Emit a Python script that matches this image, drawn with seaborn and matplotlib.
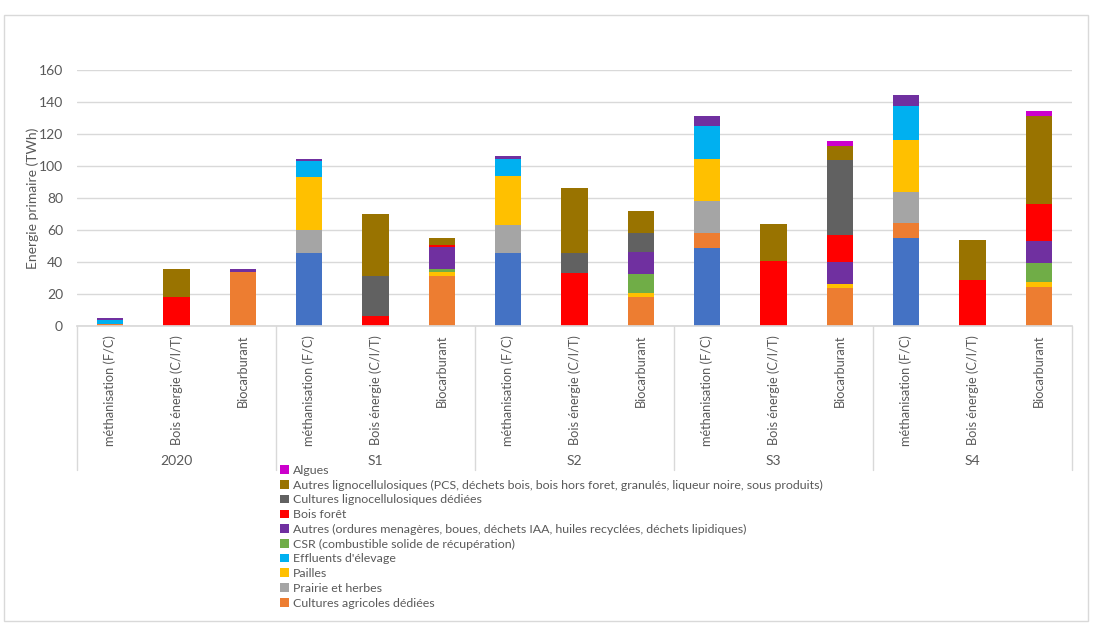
import matplotlib
matplotlib.use("Agg")
import matplotlib.pyplot as plt
from matplotlib.patches import Rectangle, Patch
from matplotlib.lines import Line2D
import seaborn as sns
import pandas as pd
import numpy as np

# ---- data ----
groups = ["2020", "S1", "S2", "S3", "S4"]
uses = ["méthanisation (F/C)", "Bois énergie (C/I/T)", "Biocarburant"]

series_names = [
    "Cultures intermédiaires",
    "Cultures agricoles dédiées",
    "Prairie et herbes",
    "Pailles",
    "Effluents d'élevage",
    "CSR (combustible solide de récupération)",
    "Autres (ordures menagères, boues, déchets IAA, huiles recyclées, déchets lipidiques)",
    "Bois forêt",
    "Cultures lignocellulosiques dédiées",
    "Autres lignocellulosiques (PCS, déchets bois, bois hors foret, granulés, liqueur noire, sous produits)",
    "Algues",
]
cultures_interm = [0, 0, 0, 45.6, 0, 0, 45.6, 0, 0, 49.0, 0, 0, 54.8, 0, 0]
cultures_agri = [1.5, 0, 34.0, 0, 0, 31.0, 0, 0, 17.9, 9.0, 0, 23.75, 9.8, 0, 24.6]
prairie = [0, 0, 0, 14.4, 0, 0, 17.7, 0, 0, 20.2, 0, 0, 19.0, 0, 0]
pailles = [0, 0, 0, 33.3, 0, 2.9, 30.2, 0, 2.9, 26.25, 0, 2.5, 32.9, 0, 3.1]
effluents = [2.5, 0, 0, 9.6, 0, 0, 10.6, 0, 0, 20.4, 0, 0, 20.8, 0, 0]
csr = [0, 0, 0, 0, 0, 2.0, 0, 0, 11.5, 0, 0, 0, 0, 0, 11.5]
autres = [0.8, 0, 1.9, 1.7, 0, 13.75, 2.1, 0, 13.75, 6.7, 0, 13.75, 7.1, 0, 13.75]
bois_foret = [0, 18.0, 0, 0, 6.25, 1.25, 0, 33.3, 0, 0, 40.6, 16.7, 0, 28.5, 23.3]
cultures_ligno = [0, 0, 0, 0, 25.2, 0, 0, 12.5, 12.1, 0, 0, 47.3, 0, 0, 0]
autres_ligno = [0, 17.7, 0, 0, 38.5, 4.0, 0, 40.6, 13.75, 0, 22.9, 8.75, 0, 25.2, 54.8]
algues = [0, 0, 0, 0, 0, 0, 0, 0, 0, 0, 0, 3.1, 0, 0, 3.1]

series_values = [cultures_interm, cultures_agri, prairie, pailles, effluents, csr,
                 autres, bois_foret, cultures_ligno, autres_ligno, algues]
colors = ["#4472C4", "#ED7D31", "#A5A5A5", "#FFC000", "#00B0F0", "#70AD47",
          "#7030A0", "#FF0000", "#616161", "#997300", "#CC00CC"]

# ---- figure ----
sns.set_theme(style="white")
plt.rcParams["font.family"] = ["Lato", "DejaVu Sans"]
TXT = "#595959"

W, H = 1100, 631
fig = plt.figure(figsize=(W / 100, H / 100), dpi=100)
ax = fig.add_axes([77 / W, 1 - 326 / H, (1072 - 77) / W, (326 - 70) / H])

bar_ids = [f"{g}|{u}" for g in groups for u in uses]
records = []
for name, vals in zip(series_names, series_values):
    for bid, v in zip(bar_ids, vals):
        records.append({"bar": bid, "serie": name, "value": v})
df = pd.DataFrame(records)
df["cum"] = df.groupby("bar")["value"].cumsum()

# draw cumulative layers from top to bottom so each covers the one below
for name, col in reversed(list(zip(series_names, colors))):
    sub = df[df["serie"] == name]
    sns.barplot(data=sub, x="bar", y="cum", order=bar_ids, color=col,
                width=0.4, ax=ax, saturation=1, errorbar=None,
                linewidth=0, edgecolor="none")

ax.set_ylim(0, 160)
ax.set_xlim(-0.5, len(bar_ids) - 0.5)
ax.set_yticks(np.arange(0, 161, 20))
ax.yaxis.grid(True, color="#D9D9D9", linewidth=1)
ax.set_axisbelow(True)
for s in ["top", "right", "left"]:
    ax.spines[s].set_visible(False)
ax.spines["bottom"].set_color("#D9D9D9")
ax.tick_params(axis="y", length=0, pad=10, labelsize=10, labelcolor=TXT)
ax.set_xticks(range(len(bar_ids)))
ax.set_xticklabels([u for g in groups for u in uses], rotation=90, va="top",
                   ha="center", fontsize=9.2, color=TXT)
ax.tick_params(axis="x", length=0, pad=6.5)
ax.set_xlabel("")
ax.set_ylabel("Energie primaire (TWh)", fontsize=10, color=TXT, labelpad=0)

# group labels and separators
n = len(uses)
for gi, g in enumerate(groups):
    xc = gi * n + (n - 1) / 2
    ax.text(xc, -(461 - 326) / 256 * 160, g, ha="center", va="center",
            fontsize=10, color=TXT, clip_on=False)
for k in range(len(groups) + 1):
    xb = k * n - 0.5
    ax.add_line(Line2D([xb, xb], [0, -(470 - 326) / 256 * 160], color="#D9D9D9",
                       linewidth=1, clip_on=False))

# legend (top series first, without the unlabelled blue series)
handles = [Patch(facecolor=c, edgecolor="none", label=nm)
           for nm, c in zip(series_names[1:][::-1], colors[1:][::-1])]
fig.legend(handles=handles, loc="upper left", bbox_to_anchor=(280 / W, 1 - 465 / H),
           frameon=False, fontsize=8.9, handlelength=0.7, handleheight=0.7,
           handletextpad=0.35, labelspacing=0.3, borderpad=0, borderaxespad=0,
           labelcolor=TXT)

# outer frame
fig.add_artist(Rectangle((4 / W, 1 - 621 / H), (1088 - 4) / W, (621 - 15) / H,
                         transform=fig.transFigure, fill=False,
                         edgecolor="#D9D9D9", linewidth=1))

fig.savefig("out.png", dpi=100)
